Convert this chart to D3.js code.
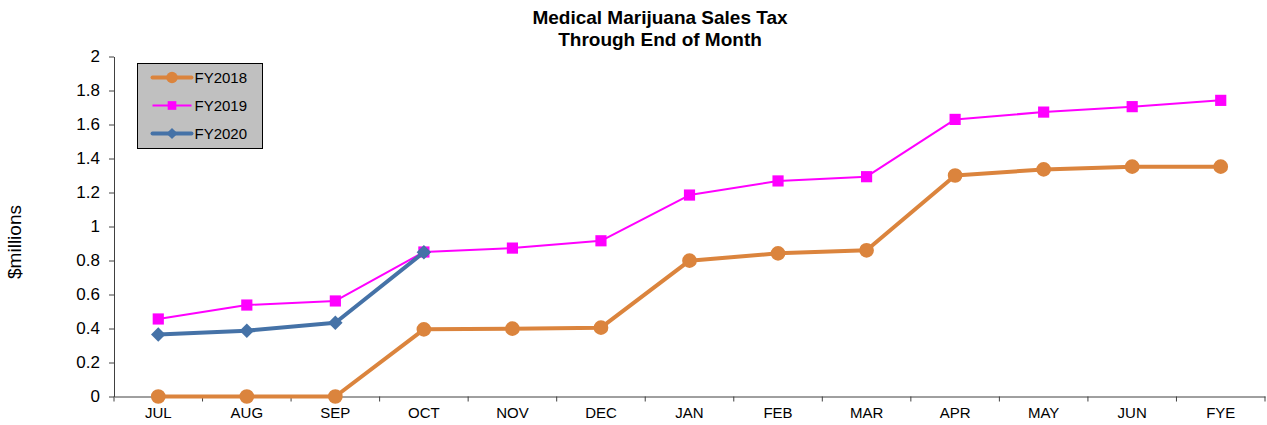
<!DOCTYPE html>
<html>
<head>
<meta charset="utf-8">
<script src="https://cdn.jsdelivr.net/npm/d3@7"></script>
<style>
  body { margin: 0; background: #fff; }
  text { font-family: Arial, "Liberation Sans", sans-serif; fill: #000; }
  .axis path, .axis line { stroke: #404040; }
</style>
</head>
<body>
<div id="chart"></div>
<script>
// data
var months = ["JUL","AUG","SEP","OCT","NOV","DEC","JAN","FEB","MAR","APR","MAY","JUN","FYE"]
var fy2018 = [0, 0, 0, 0.395, 0.399, 0.405, 0.799, 0.842, 0.86, 1.30, 1.336, 1.352, 1.352]
var fy2019 = [0.456, 0.538, 0.562, 0.85, 0.873, 0.916, 1.185, 1.268, 1.293, 1.63, 1.673, 1.705, 1.742]
var fy2020 = [0.364, 0.387, 0.434, 0.848]
var yTicks = [0, 0.2, 0.4, 0.6, 0.8, 1, 1.2, 1.4, 1.6, 1.8, 2]

var W = 1267, H = 425
var margin = {top: 56.5, right: 2, bottom: 28.5, left: 114}
var width = W - margin.left - margin.right,
    height = H - margin.top - margin.bottom

var svg = d3.select("#chart").append("svg")
    .attr("width", W).attr("height", H)

// title
var title = svg.append("text")
    .attr("text-anchor", "middle")
    .style("font-weight", "bold").style("font-size", "19px")
title.append("tspan").attr("x", 660).attr("y", 24).text("Medical Marijuana Sales Tax")
title.append("tspan").attr("x", 660).attr("y", 46).text("Through End of Month")

var g = svg.append("g")
    .attr("transform", "translate(" + margin.left + "," + margin.top + ")")

var x = d3.scaleBand().domain(months).range([0, width])
var y = d3.scaleLinear().domain([0, 2]).range([height, 0])

// X - axis : ticks on the category boundaries
var xaxis = g.append("g")
    .attr("class", "axis")
    .attr("transform", "translate(0," + height + ")")
    .call(d3.axisBottom(x).tickSize(0).tickPadding(11))
xaxis.selectAll("text").style("font-size", "15px")
xaxis.selectAll(".bound")
    .data(d3.range(months.length + 1))
    .enter().append("line")
    .attr("x1", i => i * x.step()).attr("x2", i => i * x.step())
    .attr("y1", 0).attr("y2", 5)
    .attr("stroke", "#404040")

// Y - axis
var yaxis = g.append("g")
    .attr("class", "axis")
    .call(d3.axisLeft(y).tickValues(yTicks).tickSize(5).tickSizeOuter(0).tickPadding(9)
        .tickFormat(d => d3.format("")(+d.toFixed(1))))
yaxis.selectAll("text").style("font-size", "17px")

svg.append("text")
    .attr("transform", "translate(21,242) rotate(-90)")
    .attr("text-anchor", "middle")
    .style("font-size", "19px")
    .text("$millions")

var line = d3.line()
    .x((d, i) => x(months[i]) + x.bandwidth() / 2)
    .y(d => y(d))

var series = [
  {name: "FY2018", vals: fy2018, color: "#db843d", width: 4, shape: d3.symbolCircle, size: 170, rot: 0},
  {name: "FY2019", vals: fy2019, color: "#ff00ff", width: 2, shape: d3.symbolSquare, size: 125, rot: 0},
  {name: "FY2020", vals: fy2020, color: "#4572a7", width: 4, shape: d3.symbolSquare, size: 105, rot: 45}
]

series.forEach(function (s) {
  g.append("path")
    .attr("d", line(s.vals))
    .attr("fill", "none")
    .attr("stroke", s.color)
    .attr("stroke-width", s.width)
    .attr("stroke-linejoin", "round")
  g.selectAll(null)
    .data(s.vals)
    .enter().append("path")
    .attr("d", d3.symbol().type(s.shape).size(s.size))
    .attr("transform", (d, i) => "translate(" + (x(months[i]) + x.bandwidth() / 2) + "," + y(d) + ") rotate(" + s.rot + ")")
    .attr("fill", s.color)
})

// legend
var legend = svg.append("g").attr("transform", "translate(137.5,63.5)")
legend.append("rect")
    .attr("width", 125).attr("height", 85)
    .attr("fill", "#c0c0c0").attr("stroke", "#000").attr("stroke-width", 1)
series.forEach(function (s, i) {
  var ly = 14 + i * 28
  legend.append("line")
    .attr("x1", 15).attr("x2", 54).attr("y1", ly).attr("y2", ly)
    .attr("stroke", s.color).attr("stroke-width", s.width)
    .attr("stroke-linecap", s.width > 2 ? "round" : "butt")
  legend.append("path")
    .attr("d", d3.symbol().type(s.shape).size(s.size * 0.6))
    .attr("transform", "translate(34.5," + ly + ") rotate(" + s.rot + ")")
    .attr("fill", s.color)
  legend.append("text")
    .attr("x", 57).attr("y", ly + 5)
    .style("font-size", "15px")
    .text(s.name)
})
</script>
</body>
</html>
